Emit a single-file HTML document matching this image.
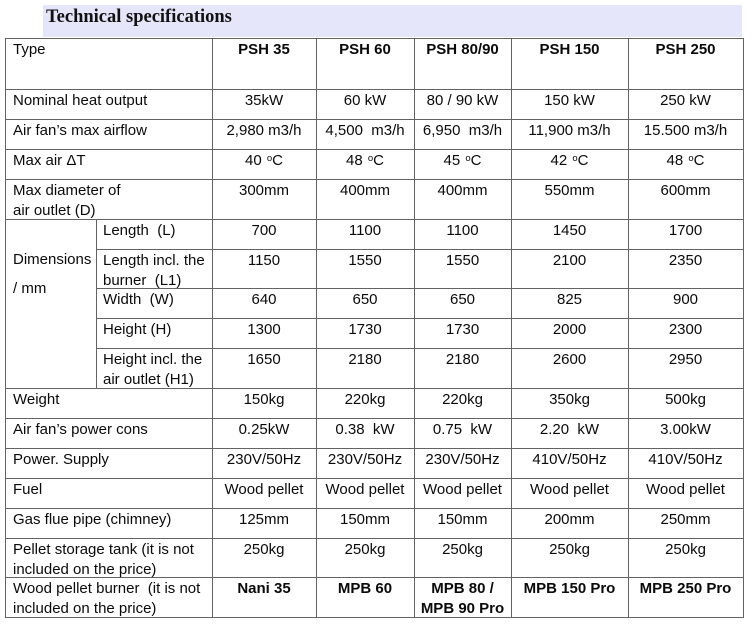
<!DOCTYPE html>
<html>
<head>
<meta charset="utf-8">
<style>
  html,body{margin:0;padding:0;background:#fff;}
  body{width:752px;height:624px;position:relative;overflow:hidden;font-family:"Liberation Sans",Arial,sans-serif;font-size:15px;color:#0a0a0a;}
  .band{position:absolute;left:43px;top:5px;width:699px;height:32px;background:#e6e6fa;}
  .title{position:absolute;left:46px;top:6px;font-family:"Liberation Serif","Times New Roman",serif;font-weight:bold;font-size:18.5px;line-height:22px;color:#111;white-space:nowrap;}
  svg{position:absolute;left:0;top:0;}
  .r{position:absolute;left:0;width:752px;}
  .t{position:absolute;top:2px;line-height:19.5px;white-space:nowrap;}
  .l{left:13px;}
  .s{left:103px;}
  .a{left:212px;width:104px;text-align:center;}
  .b{left:316px;width:98px;text-align:center;}
  .c{left:414px;width:97px;text-align:center;}
  .d{left:511px;width:117px;text-align:center;}
  .e{left:628px;width:115px;text-align:center;}
  .bo{font-weight:bold;}
  .dg{font-size:9.5px;position:relative;top:-4px;margin-left:1px;}
</style>
</head>
<body>
<div class="band"></div>
<div class="title">Technical specifications</div>

<svg width="752" height="624" viewBox="0 0 752 624" shape-rendering="crispEdges">
  <g stroke="#636363" stroke-width="1" fill="none">
    <line x1="5" y1="38.5" x2="744" y2="38.5"/>
    <line x1="5" y1="89.5" x2="744" y2="89.5"/>
    <line x1="5" y1="119.5" x2="744" y2="119.5"/>
    <line x1="5" y1="149.5" x2="744" y2="149.5"/>
    <line x1="5" y1="179.5" x2="744" y2="179.5"/>
    <line x1="5" y1="219.5" x2="744" y2="219.5"/>
    <line x1="96" y1="249.5" x2="744" y2="249.5"/>
    <line x1="96" y1="288.5" x2="744" y2="288.5"/>
    <line x1="96" y1="318.5" x2="744" y2="318.5"/>
    <line x1="96" y1="348.5" x2="744" y2="348.5"/>
    <line x1="5" y1="388.5" x2="744" y2="388.5"/>
    <line x1="5" y1="418.5" x2="744" y2="418.5"/>
    <line x1="5" y1="448.5" x2="744" y2="448.5"/>
    <line x1="5" y1="478.5" x2="744" y2="478.5"/>
    <line x1="5" y1="508.5" x2="744" y2="508.5"/>
    <line x1="5" y1="538.5" x2="744" y2="538.5"/>
    <line x1="5" y1="577.5" x2="744" y2="577.5"/>
    <line x1="5" y1="617.5" x2="744" y2="617.5"/>
    <line x1="5.5" y1="38" x2="5.5" y2="618"/>
    <line x1="96.5" y1="219" x2="96.5" y2="389"/>
    <line x1="212.5" y1="38" x2="212.5" y2="618"/>
    <line x1="316.5" y1="38" x2="316.5" y2="618"/>
    <line x1="414.5" y1="38" x2="414.5" y2="618"/>
    <line x1="511.5" y1="38" x2="511.5" y2="618"/>
    <line x1="628.5" y1="38" x2="628.5" y2="618"/>
    <line x1="743.5" y1="38" x2="743.5" y2="618"/>
  </g>
</svg>

<div class="r" style="top:38px">
  <div class="t l">Type</div>
  <div class="t a bo">PSH 35</div>
  <div class="t b bo">PSH 60</div>
  <div class="t c bo">PSH 80/90</div>
  <div class="t d bo">PSH 150</div>
  <div class="t e bo">PSH 250</div>
</div>

<div class="r" style="top:89px">
  <div class="t l">Nominal heat output</div>
  <div class="t a">35kW</div>
  <div class="t b">60 kW</div>
  <div class="t c">80 / 90 kW</div>
  <div class="t d">150 kW</div>
  <div class="t e">250 kW</div>
</div>

<div class="r" style="top:119px">
  <div class="t l">Air fan’s max airflow</div>
  <div class="t a">2,980 m3/h</div>
  <div class="t b">4,500&nbsp; m3/h</div>
  <div class="t c">6,950&nbsp; m3/h</div>
  <div class="t d">11,900 m3/h</div>
  <div class="t e">15.500 m3/h</div>
</div>

<div class="r" style="top:149px">
  <div class="t l">Max air ΔT</div>
  <div class="t a">40 <span class="dg">o</span>C</div>
  <div class="t b">48 <span class="dg">o</span>C</div>
  <div class="t c">45 <span class="dg">o</span>C</div>
  <div class="t d">42 <span class="dg">o</span>C</div>
  <div class="t e">48 <span class="dg">o</span>C</div>
</div>

<div class="r" style="top:179px">
  <div class="t l">Max diameter of<br>air outlet (D)</div>
  <div class="t a">300mm</div>
  <div class="t b">400mm</div>
  <div class="t c">400mm</div>
  <div class="t d">550mm</div>
  <div class="t e">600mm</div>
</div>

<div class="t l" style="top:250px">Dimensions</div>
<div class="t l" style="top:279px">/ mm</div>

<div class="r" style="top:219px">
  <div class="t s">Length&nbsp; (L)</div>
  <div class="t a">700</div>
  <div class="t b">1100</div>
  <div class="t c">1100</div>
  <div class="t d">1450</div>
  <div class="t e">1700</div>
</div>

<div class="r" style="top:249px">
  <div class="t s">Length incl. the<br>burner&nbsp; (L1)</div>
  <div class="t a">1150</div>
  <div class="t b">1550</div>
  <div class="t c">1550</div>
  <div class="t d">2100</div>
  <div class="t e">2350</div>
</div>

<div class="r" style="top:288px">
  <div class="t s">Width&nbsp; (W)</div>
  <div class="t a">640</div>
  <div class="t b">650</div>
  <div class="t c">650</div>
  <div class="t d">825</div>
  <div class="t e">900</div>
</div>

<div class="r" style="top:318px">
  <div class="t s">Height (H)</div>
  <div class="t a">1300</div>
  <div class="t b">1730</div>
  <div class="t c">1730</div>
  <div class="t d">2000</div>
  <div class="t e">2300</div>
</div>

<div class="r" style="top:348px">
  <div class="t s">Height incl. the<br>air outlet (H1)</div>
  <div class="t a">1650</div>
  <div class="t b">2180</div>
  <div class="t c">2180</div>
  <div class="t d">2600</div>
  <div class="t e">2950</div>
</div>

<div class="r" style="top:388px">
  <div class="t l">Weight</div>
  <div class="t a">150kg</div>
  <div class="t b">220kg</div>
  <div class="t c">220kg</div>
  <div class="t d">350kg</div>
  <div class="t e">500kg</div>
</div>

<div class="r" style="top:418px">
  <div class="t l">Air fan’s power cons</div>
  <div class="t a">0.25kW</div>
  <div class="t b">0.38&nbsp; kW</div>
  <div class="t c">0.75&nbsp; kW</div>
  <div class="t d">2.20&nbsp; kW</div>
  <div class="t e">3.00kW</div>
</div>

<div class="r" style="top:448px">
  <div class="t l">Power. Supply</div>
  <div class="t a">230V/50Hz</div>
  <div class="t b">230V/50Hz</div>
  <div class="t c">230V/50Hz</div>
  <div class="t d">410V/50Hz</div>
  <div class="t e">410V/50Hz</div>
</div>

<div class="r" style="top:478px">
  <div class="t l">Fuel</div>
  <div class="t a">Wood pellet</div>
  <div class="t b">Wood pellet</div>
  <div class="t c">Wood pellet</div>
  <div class="t d">Wood pellet</div>
  <div class="t e">Wood pellet</div>
</div>

<div class="r" style="top:508px">
  <div class="t l">Gas flue pipe (chimney)</div>
  <div class="t a">125mm</div>
  <div class="t b">150mm</div>
  <div class="t c">150mm</div>
  <div class="t d">200mm</div>
  <div class="t e">250mm</div>
</div>

<div class="r" style="top:538px">
  <div class="t l">Pellet storage tank (it is not<br>included on the price)</div>
  <div class="t a">250kg</div>
  <div class="t b">250kg</div>
  <div class="t c">250kg</div>
  <div class="t d">250kg</div>
  <div class="t e">250kg</div>
</div>

<div class="r" style="top:577px">
  <div class="t l">Wood pellet burner&nbsp; (it is not<br>included on the price)</div>
  <div class="t a bo">Nani 35</div>
  <div class="t b bo">MPB 60</div>
  <div class="t c bo">MPB 80 /<br>MPB 90 Pro</div>
  <div class="t d bo">MPB 150 Pro</div>
  <div class="t e bo">MPB 250 Pro</div>
</div>

</body>
</html>
